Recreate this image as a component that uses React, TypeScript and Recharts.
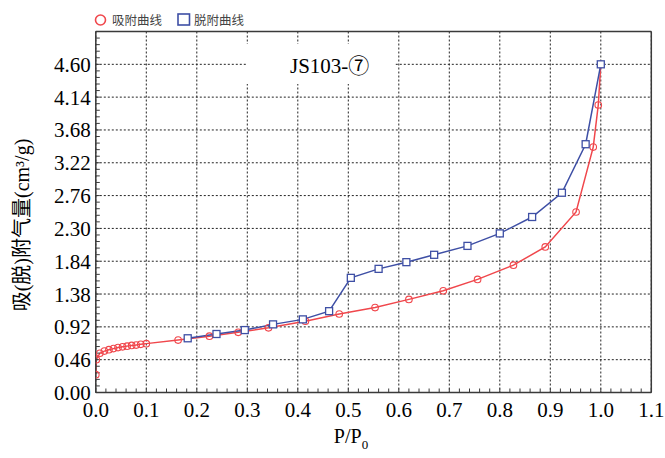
import { LineChart, Line, XAxis, YAxis, CartesianGrid, ReferenceLine } from "recharts";

// adsorption branch (P/P0 -> volume)
const adsP = [0.0, 0.001, 0.008, 0.017, 0.026, 0.035, 0.044, 0.053, 0.062, 0.071, 0.08, 0.089, 0.1, 0.163, 0.225, 0.282, 0.342, 0.415, 0.482, 0.553, 0.62, 0.688, 0.756, 0.827, 0.89, 0.951, 0.985, 0.995, 1.0];
const adsV = [0.25, 0.46, 0.55, 0.58, 0.6, 0.615, 0.63, 0.64, 0.65, 0.66, 0.665, 0.675, 0.685, 0.735, 0.79, 0.843, 0.907, 1.0, 1.1, 1.19, 1.305, 1.425, 1.585, 1.785, 2.04, 2.53, 3.44, 4.03, 4.6];

// desorption branch
const desP = [1.0, 0.97, 0.923, 0.864, 0.8, 0.736, 0.67, 0.615, 0.56, 0.505, 0.462, 0.41, 0.351, 0.295, 0.239, 0.182];
const desV = [4.6, 3.48, 2.8, 2.46, 2.23, 2.055, 1.93, 1.827, 1.733, 1.607, 1.14, 1.025, 0.955, 0.875, 0.82, 0.76];

const xTicks = [0, 0.1, 0.2, 0.3, 0.4, 0.5, 0.6, 0.7, 0.8, 0.9, 1.0, 1.1];
const yTicks = [0, 0.46, 0.92, 1.38, 1.84, 2.3, 2.76, 3.22, 3.68, 4.14, 4.6];
const xMinor = Array.from({ length: 56 }, (_, i) => +(i * 0.02).toFixed(2));
const yMinor = Array.from({ length: 56 }, (_, i) => +(i * 0.092).toFixed(3)).filter((v) => v <= 5.06);

const seriesNames = ["吸附曲线", "脱附曲线"];

const RED = "#f0474c";
const BLUE = "#3e4fa5";
const FRAME = "#3a3a3a";
const SERIF = "'Liberation Serif', 'Noto Sans CJK SC', serif";

const adsData = adsP.map((p, i) => ({ p, v: adsV[i] }));
const desData = desP.map((p, i) => ({ p, v: desV[i] }));

function SquareDot(props: any) {
  const { cx, cy, index } = props;
  if (cx == null || cy == null) return <g key={`sq-${index}`} />;
  return (
    <rect
      key={`sq-${index}`}
      x={cx - 3.5}
      y={cy - 3.5}
      width={7}
      height={7}
      fill="#fff"
      stroke={BLUE}
      strokeWidth={1.3}
    />
  );
}

const tickStyle = { fill: "#000", fontSize: 21, fontFamily: SERIF };

export default function App() {
  return (
    <div style={{ position: "absolute", left: 0, top: 0, width: 665, height: 458, background: "#fff" }}>
      <LineChart
        width={665}
        height={458}
        margin={{ top: 31.5, right: 13.7, bottom: 20.5, left: 35.8 }}
      >
        <CartesianGrid stroke="#222" strokeDasharray="2 2" strokeWidth={1} />
        <XAxis
          dataKey="p"
          type="number"
          domain={[0, 1.1]}
          ticks={xTicks}
          interval={0}
          allowDataOverflow
          tickFormatter={(v: number) => v.toFixed(1)}
          tickLine={false}
          tickSize={0}
          tickMargin={10}
          height={45}
          axisLine={{ stroke: FRAME, strokeWidth: 1.5 }}
          tick={tickStyle}
        />
        <XAxis
          xAxisId="minor"
          dataKey="p"
          type="number"
          domain={[0, 1.1]}
          ticks={xMinor}
          interval={0}
          allowDataOverflow
          mirror
          axisLine={false}
          tickSize={4}
          tickLine={{ stroke: FRAME }}
          tickFormatter={() => ""}
        />
        <YAxis
          type="number"
          domain={[0, 5.06]}
          ticks={yTicks}
          interval={0}
          allowDataOverflow
          tickFormatter={(v: number) => v.toFixed(2)}
          tickLine={false}
          tickSize={0}
          tickMargin={5}
          width={60}
          axisLine={{ stroke: FRAME, strokeWidth: 1.5 }}
          tick={tickStyle}
        />
        <YAxis
          yAxisId="minor"
          type="number"
          domain={[0, 5.06]}
          ticks={yMinor}
          interval={0}
          allowDataOverflow
          mirror
          axisLine={false}
          tickSize={4}
          tickLine={{ stroke: FRAME }}
          tickFormatter={() => ""}
        />
        <ReferenceLine y={5.06} stroke={FRAME} strokeWidth={1.5} ifOverflow="extendDomain" />
        <ReferenceLine x={1.1} stroke={FRAME} strokeWidth={1.5} ifOverflow="extendDomain" />
        <Line
          data={adsData}
          dataKey="v"
          name={seriesNames[0]}
          type="linear"
          stroke={RED}
          strokeWidth={1.5}
          dot={{ r: 3.3, stroke: RED, strokeWidth: 1.1, fill: "none" }}
          activeDot={false}
          isAnimationActive={false}
        />
        <Line
          data={desData}
          dataKey="v"
          name={seriesNames[1]}
          type="linear"
          stroke={BLUE}
          strokeWidth={1.5}
          dot={SquareDot}
          activeDot={false}
          isAnimationActive={false}
        />
      </LineChart>

      {/* legend, title and axis titles */}
      <svg
        width={665}
        height={458}
        style={{ position: "absolute", left: 0, top: 0, pointerEvents: "none" }}
      >
        <circle cx={100.5} cy={20} r={5} fill="none" stroke={RED} strokeWidth={1.6} />
        <text x={112} y={25} fontSize={12.5} fill="#444" fontFamily="'Noto Sans CJK SC', sans-serif">
          {seriesNames[0]}
        </text>
        <rect x={178} y={14} width={11.5} height={11} fill="none" stroke={BLUE} strokeWidth={1.6} />
        <text x={194} y={25} fontSize={12.5} fill="#444" fontFamily="'Noto Sans CJK SC', sans-serif">
          {seriesNames[1]}
        </text>

        {/* title sits on a white box that hides the grid behind it */}
        <rect x={246} y={44} width={148} height={40} fill="#fff" />
        <text x={290} y={73} fontSize={21} fill="#000" fontFamily={SERIF}>
          JS103-⑦
        </text>

        <text x={351} y={443} fontSize={20} fill="#000" fontFamily={SERIF} textAnchor="middle">
          P/P
          <tspan fontSize={13} dy={6}>0</tspan>
        </text>

        <text
          x={22}
          y={225}
          fontSize={20}
          fill="#000"
          fontFamily={SERIF}
          textAnchor="middle"
          dominantBaseline="central"
          transform="rotate(-90 22 225)"
        >
          吸(脱)附气量(cm³/g)
        </text>
      </svg>
    </div>
  );
}
